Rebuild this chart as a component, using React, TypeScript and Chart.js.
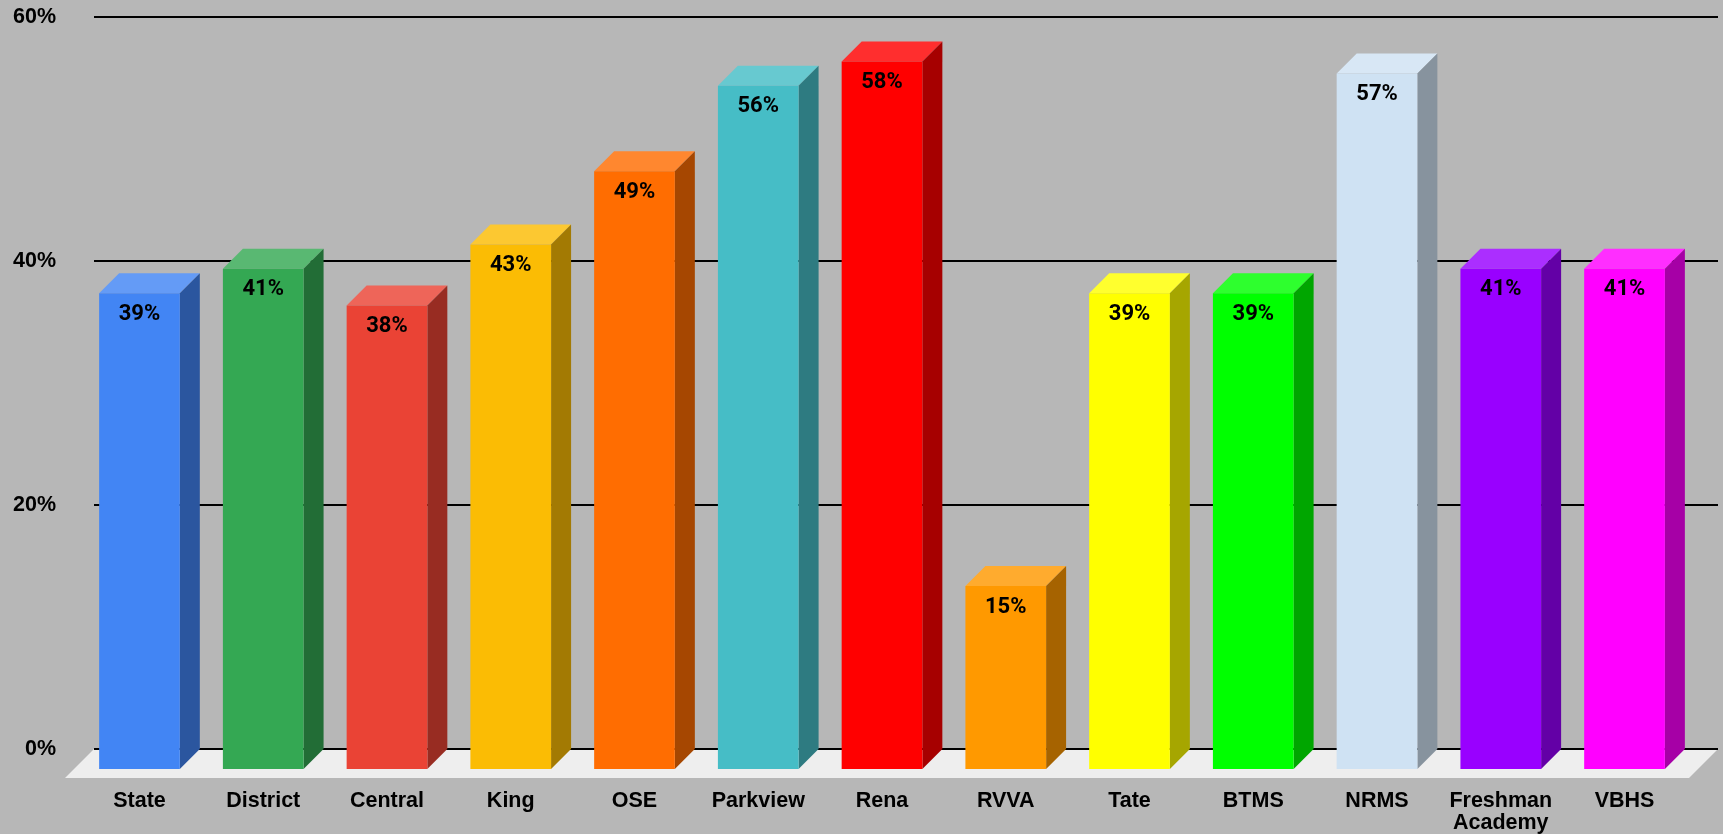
import React, { useEffect, useRef } from "react";
import { Chart, registerables } from "chart.js";

Chart.register(...registerables);

const categories: (string | string[])[] = ["State", "District", "Central", "King", "OSE", "Parkview", "Rena", "RVVA", "Tate", "BTMS", "NRMS", ["Freshman", "Academy"], "VBHS"];
const values = [39, 41, 38, 43, 49, 56, 58, 15, 39, 39, 57, 41, 41];
const frontColors = ["#4285f4", "#34a853", "#ea4335", "#fbbc04", "#ff6d01", "#46bdc6", "#ff0000", "#ff9900", "#ffff00", "#00ff00", "#cfe2f3", "#9900ff", "#ff00ff"];
const yTicks = [0, 20, 40, 60];

const BG = "#b7b7b7";
const DEPTH = 20;
const FLOOR = 29;

function mix(hex: string, target: number, t: number) {
  const n = parseInt(hex.slice(1), 16);
  const c = [(n >> 16) & 255, (n >> 8) & 255, n & 255].map((v) => Math.round(v + (target - v) * t));
  return `rgb(${c[0]},${c[1]},${c[2]})`;
}

function poly(ctx: CanvasRenderingContext2D, pts: number[][], fill: string) {
  ctx.fillStyle = fill;
  ctx.beginPath();
  pts.forEach(([x, y], i) => (i ? ctx.lineTo(x, y) : ctx.moveTo(x, y)));
  ctx.closePath();
  ctx.fill();
}

const bars3d = {
  id: "bars3d",
  beforeDatasetsDraw(chart: any) {
    const { ctx, scales } = chart;
    const y0 = scales.y.getPixelForValue(0);
    const left = 94;
    const right = 1718;
    ctx.save();
    poly(ctx, [[left, y0], [right, y0], [right - FLOOR, y0 + FLOOR], [left - FLOOR, y0 + FLOOR]], "#eeeeee");
    ctx.strokeStyle = "#000000";
    ctx.lineWidth = 2;
    yTicks.forEach((t) => {
      const y = Math.round(scales.y.getPixelForValue(t));
      ctx.beginPath();
      ctx.moveTo(left, y);
      ctx.lineTo(right, y);
      ctx.stroke();
    });
    const meta = chart.getDatasetMeta(0);
    meta.data.forEach((el: any, i: number) => {
      const { x, y, base, width } = el.getProps(["x", "y", "base", "width"], true);
      const l = x - width / 2;
      const r = x + width / 2;
      poly(ctx, [[l - DEPTH, y + DEPTH], [r - DEPTH, y + DEPTH], [r, y], [l, y]], mix(frontColors[i], 255, 0.18));
      poly(ctx, [[r - DEPTH, y + DEPTH], [r, y], [r, base], [r - DEPTH, base + DEPTH]], mix(frontColors[i], 0, 0.35));
    });
    ctx.restore();
    ctx.save();
    ctx.translate(-DEPTH, DEPTH);
  },
  afterDatasetsDraw(chart: any) {
    const { ctx } = chart;
    ctx.restore();
    ctx.save();
    ctx.fillStyle = "#000000";
    ctx.font = "bold 22px Roboto";
    ctx.textAlign = "center";
    ctx.textBaseline = "middle";
    chart.getDatasetMeta(0).data.forEach((el: any, i: number) => {
      const { x, y } = el.getProps(["x", "y"], true);
      ctx.fillText(`${values[i]}%`, x - DEPTH, y + DEPTH + 21);
    });
    ctx.restore();
  },
};

export default function App() {
  const ref = useRef<HTMLCanvasElement>(null);
  useEffect(() => {
    document.body.style.margin = "0";
    document.body.style.background = BG;
    const chart = new Chart(ref.current!, {
      type: "bar",
      data: {
        labels: categories as any,
        datasets: [
          {
            data: values,
            backgroundColor: frontColors,
            borderWidth: 0,
            barPercentage: 0.652,
            categoryPercentage: 1,
            clip: false as any,
          },
        ],
      },
      options: {
        animation: false,
        responsive: false,
        devicePixelRatio: 1,
        layout: { padding: { top: 17, right: 16.6, left: 0, bottom: 0 } },
        plugins: { legend: { display: false }, tooltip: { enabled: false } },
        scales: {
          x: {
            grid: { display: false, drawTicks: false },
            border: { display: false },
            afterFit(s: any) {
              s.height = 85;
              s.paddingLeft = 0;
              s.paddingRight = 0;
            },
            ticks: {
              autoSkip: false,
              maxRotation: 0,
              minRotation: 0,
              labelOffset: -DEPTH,
              padding: 40.5,
              color: "#000000",
              font: { family: "'Liberation Sans'", size: 21.5, weight: "bold", lineHeight: 1.05 },
            },
          },
          y: {
            min: 0,
            max: 60,
            afterFit(s: any) {
              s.width = 97.6;
              s.paddingTop = 0;
              s.paddingBottom = 0;
            },
            grid: { display: false, drawTicks: false },
            border: { display: false },
            afterBuildTicks(s: any) {
              s.ticks = yTicks.map((value) => ({ value }));
            },
            ticks: {
              padding: 41.6,
              color: "#000000",
              font: { family: "'Liberation Sans'", size: 21.5, weight: "bold" },
              callback: (v: any) => `${v}%`,
            },
          },
        },
      },
      plugins: [bars3d as any],
    });
    return () => chart.destroy();
  }, []);
  return (
    <div style={{ width: 1723, height: 834, background: BG, overflow: "hidden" }}>
      <canvas ref={ref} width={1723} height={834} style={{ display: "block" }} />
    </div>
  );
}
